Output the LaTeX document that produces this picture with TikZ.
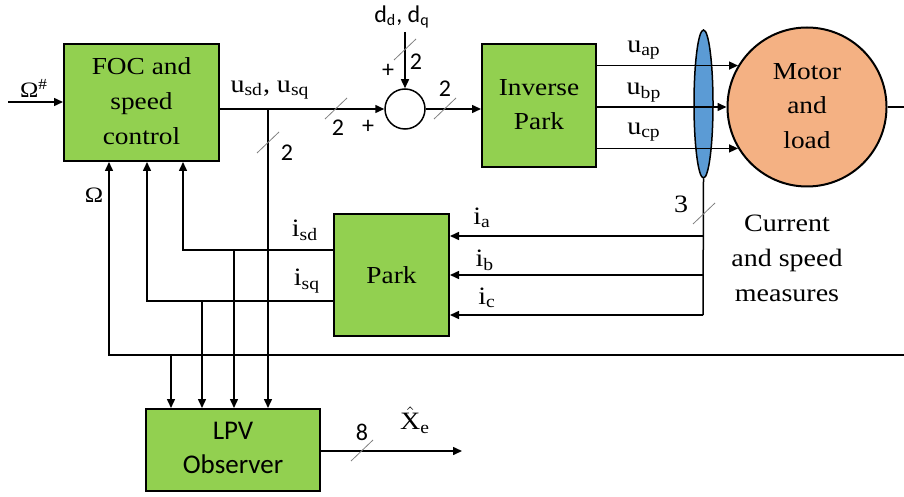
\documentclass[tikz,border=0pt]{standalone}
\usepackage{amsmath}
\usepackage{fontspec}
\setmainfont[FakeStretch=1.12]{Liberation Serif}
\newfontfamily\calibri{Carlito}
\usetikzlibrary{shapes.geometric, arrows.meta, positioning, calc}

\definecolor{blockgreen}{HTML}{92D050}
\definecolor{motororange}{HTML}{F4B183}
\definecolor{lensblue}{HTML}{5B9BD5}

\begin{document}
\begin{tikzpicture}[
    x=0.5pt, y=-0.5pt,
    block/.style={rectangle, draw, line width=1pt, fill=blockgreen, font=\rmfamily\fontsize{12.2}{17.3}\selectfont, inner sep=0pt},
    arrow/.style={-{Triangle[length=4.5pt, width=4pt]}, line width=0.75pt},
    wire/.style={line width=0.75pt},
    busmark/.style={gray, line width=0.4pt},
    sig/.style={font=\rmfamily\fontsize{12.5}{14}\selectfont, inner sep=1pt},
    num/.style={font=\calibri\fontsize{12}{14}\selectfont, inner sep=1pt}
]
\useasboundingbox (0,0) rectangle (904,497);

% Blocks
\node[block, minimum width=77.5pt, minimum height=58.5pt] (foc) at (141.5,102.5) {\begin{tabular}{@{}c@{}}FOC and\\speed\\control\end{tabular}};
\node[circle, draw, fill=white, line width=0.75pt, minimum size=20pt, inner sep=0pt] (sum) at (405,109) {};
\node[block, minimum width=57pt, minimum height=61.5pt] (invpark) at (539,105.5) {\begin{tabular}{@{}c@{}}Inverse\\Park\end{tabular}};
\node[ellipse, draw, fill=lensblue, line width=0.75pt, minimum width=9.5pt, minimum height=74pt, inner sep=0pt] (lens) at (703.5,104) {};
\node[circle, draw, fill=motororange, line width=1pt, minimum size=79.5pt, inner sep=0pt, font=\rmfamily\fontsize{12.2}{17.3}\selectfont] (motor) at (807,107) {\begin{tabular}{@{}c@{}}Motor\\and\\load\end{tabular}};
\node[block, minimum width=57.5pt, minimum height=61pt] (park) at (391.5,275) {Park};
\node[block, minimum width=87pt, minimum height=41pt, font=\calibri\fontsize{13.5}{17}\selectfont] (lpv) at (233,450) {\begin{tabular}{@{}c@{}}LPV\\Observer\end{tabular}};

% Free ends and corners
\coordinate (omegaref) at (8,102);
\coordinate (ddin) at (405,32);
\coordinate (motorout) at (904,107);
\coordinate (ia) at (703,236);
\coordinate (ib) at (703,275);
\coordinate (ic) at (703,315);
\coordinate (isdcorner) at (183,250);
\coordinate (isqcorner) at (147,301);
\coordinate (omegain) at (904,355);
\coordinate (omegacorner) at (109,355);
\coordinate (usdtap) at (268,109);
\coordinate (isdtap) at (234,250);
\coordinate (isqtap) at (202,301);
\coordinate (omegatap) at (171,355);
\coordinate (xhat) at (462,451);

% Forward path
\draw[arrow] (omegaref) -- (foc.west |- omegaref);
\draw[arrow] (foc.east |- sum) -- (sum.west);
\draw[arrow] (ddin) -- (sum.north);
\draw[arrow] (sum.east) -- (invpark.west |- sum);
\draw[arrow] (invpark.east |- motor.149) -- (motor.149);
\draw[arrow] (invpark.east |- motor.180) -- (motor.180);
\draw[arrow] (invpark.east |- motor.211) -- (motor.211);
\draw[wire] (motor.east) -- (motorout);

% Measures back to Park
\draw[wire] (lens.south) -- (ic);
\draw[arrow] (ia) -- (park.east |- ia);
\draw[arrow] (ib) -- (park.east |- ib);
\draw[arrow] (ic) -- (park.east |- ic);

% Feedback to FOC
\draw[arrow] (park.west |- isdcorner) -- (isdcorner) -- (foc.south -| isdcorner);
\draw[arrow] (park.west |- isqcorner) -- (isqcorner) -- (foc.south -| isqcorner);
\draw[arrow] (omegain) -- (omegacorner) -- (foc.south -| omegacorner);

% Observer inputs and output
\draw[arrow] (omegatap) -- (lpv.north -| omegatap);
\draw[arrow] (isqtap) -- (lpv.north -| isqtap);
\draw[arrow] (isdtap) -- (lpv.north -| isdtap);
\draw[arrow] (usdtap) -- (lpv.north -| usdtap);
\draw[arrow] (lpv.east |- xhat) -- (xhat);

% Bus width marks
\draw[busmark] (336,109) ++(-11,10) -- ++(22,-21);
\draw[busmark] (268,143) ++(-11,10) -- ++(22,-21);
\draw[busmark] (405,50) ++(-11,10) -- ++(22,-21);
\draw[busmark] (445,109) ++(-11,10) -- ++(22,-21);
\draw[busmark] (704,214) ++(-11,10) -- ++(22,-21);
\draw[busmark] (362,451) ++(-11,10) -- ++(22,-21);

% Labels
\node[sig, font=\rmfamily\fontsize{11}{13}\selectfont] (omegarefl) at (34,88) {Ω\textsuperscript{\#}};
\node[sig] (usdl) at (270,90) {$\text{u}_{\text{sd}}$, $\text{u}_{\text{sq}}$};
\node[num] (ddl) at (402,17) {d\textsubscript{d}, d\textsubscript{q}};
\node[num] (n1) at (338,128) {2};
\node[num] (p1) at (368,127) {+};
\node[num] (p2) at (388,71) {+};
\node[num] (n2) at (416,62) {2};
\node[num] (n3) at (445,89) {2};
\node[num] (n4) at (287,153) {2};
\node[sig] (uapl) at (644,50) {$\text{u}_{\text{ap}}$};
\node[sig] (ubpl) at (644,93) {$\text{u}_{\text{bp}}$};
\node[sig] (ucpl) at (644,132) {$\text{u}_{\text{cp}}$};
\node[sig] (n5) at (681,204) {3};
\node[sig] (ial) at (482,218) {$\text{i}_{\text{a}}$};
\node[sig] (ibl) at (485,260) {$\text{i}_{\text{b}}$};
\node[sig] (icl) at (487,298) {$\text{i}_{\text{c}}$};
\node[align=center, font=\rmfamily\fontsize{12.5}{17.5}\selectfont] (measl) at (787,258) {Current\\and speed\\measures};
\node[sig] (isdl) at (305,230) {$\text{i}_{\text{sd}}$};
\node[sig] (isql) at (307,281) {$\text{i}_{\text{sq}}$};
\node[sig, font=\rmfamily\fontsize{11}{13}\selectfont] (omegal) at (94,195) {Ω};
\node[num] (n6) at (362,432) {8};
\node[sig] (xhatl) at (415,420) {$\hat{\text{X}}_{\text{e}}$};

\end{tikzpicture}
\end{document}
